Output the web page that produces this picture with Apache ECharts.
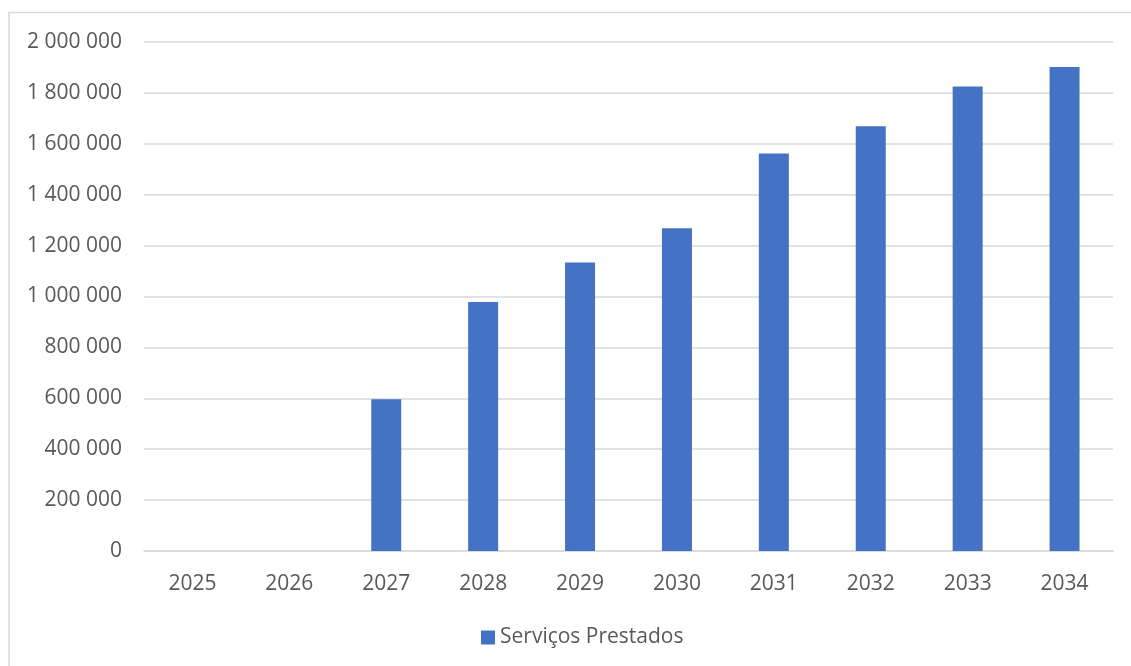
<!DOCTYPE html>
<html>
<head>
<meta charset="utf-8">
<title>Serviços Prestados</title>
<script src="https://cdn.jsdelivr.net/npm/echarts@6/dist/echarts.min.js"></script>
<style>
  html, body { margin: 0; padding: 0; background: #ffffff; }
  #chart { width: 1131px; height: 666px; }
</style>
</head>
<body>
<div id="chart"></div>
<script>
// Years on the category axis
const years = ['2025', '2026', '2027', '2028', '2029', '2030', '2031', '2032', '2033', '2034'];
// Services rendered per year
const servicosPrestados = [0, 0, 596000, 978000, 1134000, 1268000, 1562000, 1669000, 1825000, 1902000];
// Value axis range and step
const yMin = 0;
const yMax = 2000000;
const yStep = 200000;
const seriesName = 'Serviços Prestados';

// Thousands grouped with a space, e.g. 1 800 000
function groupThousands(v) {
  return String(v).replace(/\B(?=(\d{3})+(?!\d))/g, ' ');
}

const chart = echarts.init(document.getElementById('chart'), null, { renderer: 'canvas' });
const textColor = '#595959';
const fontFamily = '"Open Sans", "Liberation Sans", sans-serif';

chart.setOption({
  animation: false,
  backgroundColor: '#ffffff',
  graphic: [{
    type: 'rect',
    shape: { x: 9, y: 12.5, width: 1200, height: 700 },
    style: { fill: 'none', stroke: '#d9d9d9', lineWidth: 1.5 },
    silent: true
  }],
  grid: { left: 144, right: 18, top: 42, bottom: 115, containLabel: false },
  legend: {
    data: [seriesName],
    bottom: 13,
    left: 476,
    itemWidth: 14,
    itemHeight: 14,
    itemGap: 6,
    icon: 'rect',
    textStyle: { color: textColor, fontSize: 21, fontFamily: fontFamily }
  },
  xAxis: {
    type: 'category',
    data: years,
    axisTick: { show: false },
    axisLine: { show: true, lineStyle: { color: '#d9d9d9', width: 1.5 } },
    axisLabel: { color: textColor, fontSize: 21, fontFamily: fontFamily, margin: 23 }
  },
  yAxis: {
    type: 'value',
    min: yMin,
    max: yMax,
    interval: yStep,
    axisLine: { show: false },
    axisTick: { show: false },
    splitLine: { lineStyle: { color: '#d9d9d9', width: 1.5 } },
    axisLabel: {
      color: textColor,
      fontSize: 21,
      fontFamily: fontFamily,
      margin: 22,
      padding: [4, 0, 0, 0],
      formatter: groupThousands
    }
  },
  series: [{
    name: seriesName,
    type: 'bar',
    data: servicosPrestados,
    barWidth: 30,
    itemStyle: { color: '#4472c4' }
  }]
});
</script>
</body>
</html>
